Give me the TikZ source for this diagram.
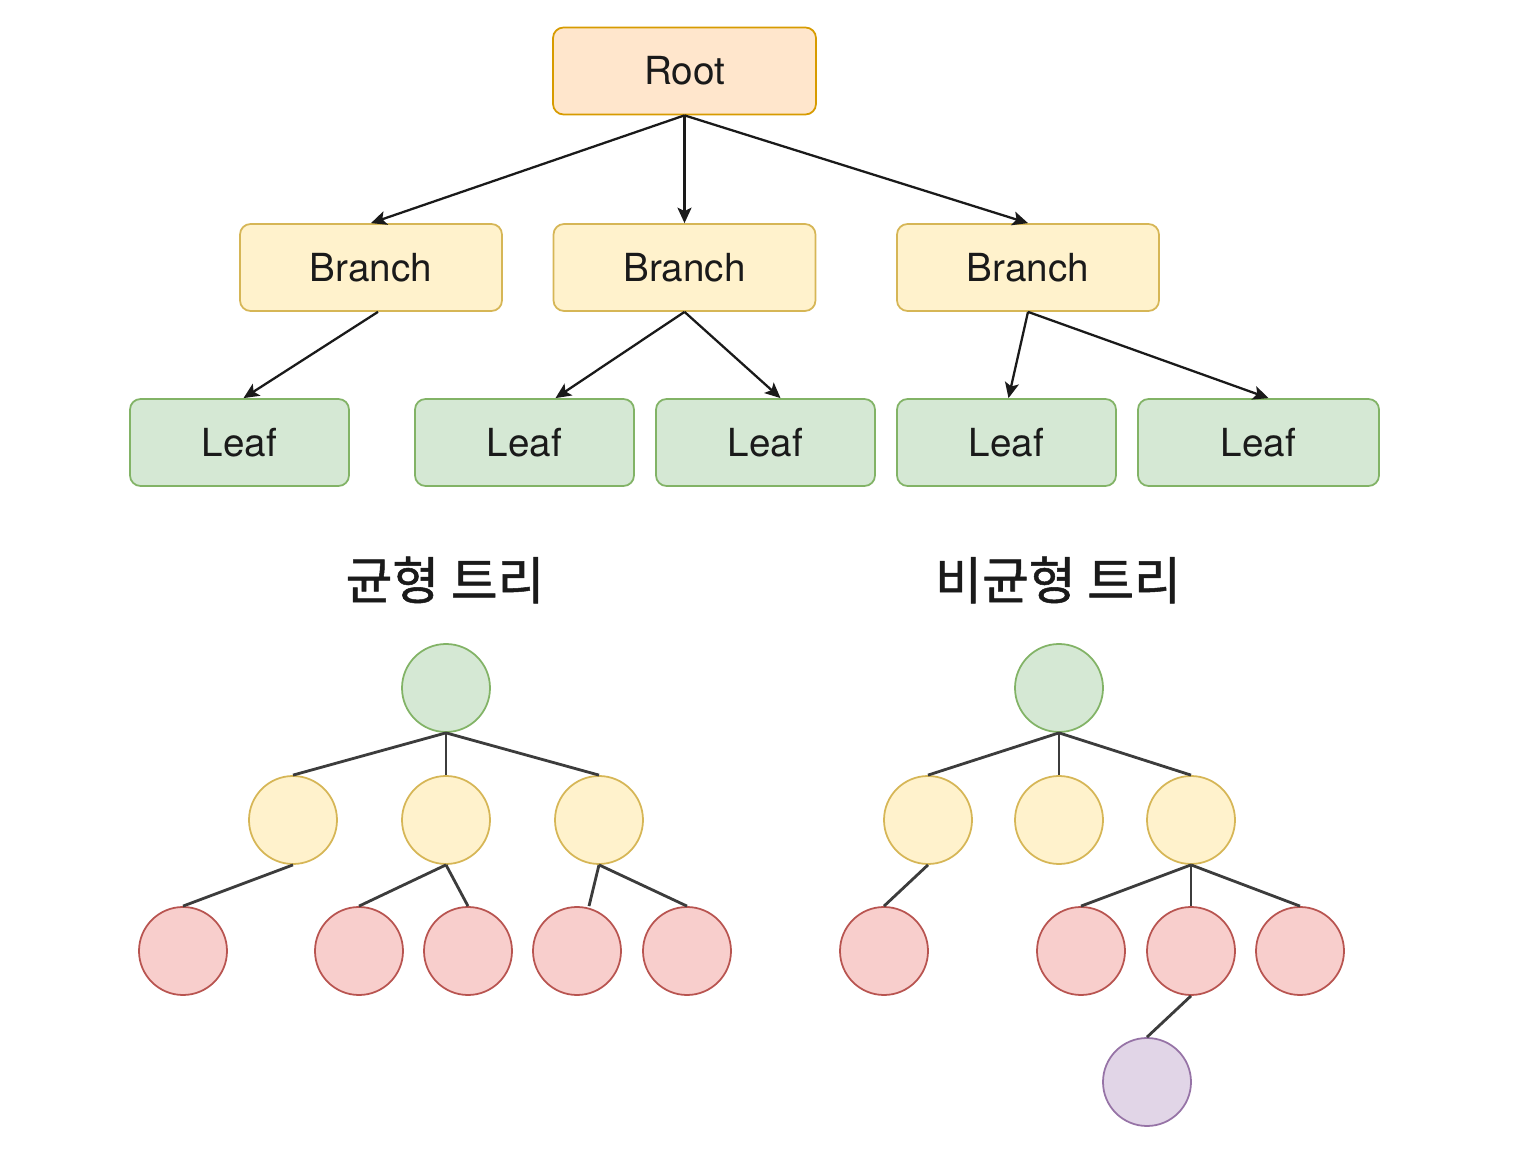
\documentclass[tikz,border=0pt]{standalone}
\usepackage{fontspec}
\setmainfont{TeX Gyre Heros}
\newfontfamily\kofont[FakeBold=1]{Noto Sans CJK KR}
\usetikzlibrary{arrows.meta}

\definecolor{rootfill}{HTML}{FFE6CC}
\definecolor{rootline}{HTML}{D79B00}
\definecolor{branchfill}{HTML}{FFF2CC}
\definecolor{branchline}{HTML}{D6B656}
\definecolor{leaffill}{HTML}{D5E8D4}
\definecolor{leafline}{HTML}{82B366}
\definecolor{redfill}{HTML}{F8CECC}
\definecolor{redline}{HTML}{B85450}
\definecolor{purplefill}{HTML}{E1D5E7}
\definecolor{purpleline}{HTML}{9673A6}
\definecolor{ink}{HTML}{1A1A1A}

\begin{document}
\begin{tikzpicture}[
  box/.style       = {draw, line width=0.5pt, rounded corners=3pt, inner sep=0pt,
                      minimum height=8.7mm, font=\fontsize{11}{13}\selectfont, text=ink},
  rootbox/.style   = {box, fill=rootfill, draw=rootline, minimum width=26.3mm},
  branchbox/.style = {box, fill=branchfill, draw=branchline, minimum width=26.2mm},
  leafbox/.style   = {box, fill=leaffill, draw=leafline, minimum width=21.9mm},
  knot/.style      = {circle, line width=0.5pt, minimum size=8.8mm, inner sep=0pt},
  top/.style       = {knot, fill=leaffill, draw=leafline},
  mid/.style       = {knot, fill=branchfill, draw=branchline},
  low/.style       = {knot, fill=redfill, draw=redline},
  deep/.style      = {knot, fill=purplefill, draw=purpleline},
  arr/.style       = {line width=0.65pt, ink, -{Stealth[length=4.4pt,width=4pt,inset=1pt]}},
  link/.style      = {line width=0.8pt, ink!85},
  caption/.style   = {font=\kofont\fontsize{14.5}{16}\selectfont, text=ink},
]
  \useasboundingbox (0,0) rectangle (15.18,11.6);

  % upper part: boxes with arrows
  \node[rootbox] (root) at (6.845,10.89) {Root};
  \node[branchbox] (b1) at (3.71,8.925) {Branch};
  \node[branchbox] (b2) at (6.845,8.925) {Branch};
  \node[branchbox] (b3) at (10.28,8.925) {Branch};
  \node[leafbox] (l1) at (2.395,7.175) {Leaf};
  \node[leafbox] (l2) at (5.245,7.175) {Leaf};
  \node[leafbox] (l3) at (7.655,7.175) {Leaf};
  \node[leafbox] (l4) at (10.065,7.175) {Leaf};
  \node[leafbox,minimum width=24.1mm] (l5) at (12.585,7.175) {Leaf};

  \draw[arr] (root.south) -- (b1.north);
  \draw[arr] (root.south) -- (b2.north);
  \draw[arr] (root.south) -- (b3.north);
  \draw[arr] ([xshift=0.07cm]b1.south) -- ([xshift=0.04cm]l1.north);
  \draw[arr] (b2.south) -- ([xshift=0.31cm]l2.north);
  \draw[arr] (b2.south) -- ([xshift=0.15cm]l3.north);
  \draw[arr] (b3.south) -- ([xshift=0.02cm]l4.north);
  \draw[arr] (b3.south) -- ([xshift=0.10cm]l5.north);

  \node[caption] (capa) at (4.45,5.8) {균형 트리};
  \node[caption] (capb) at (10.58,5.8) {비균형 트리};

  % balanced tree
  \node[top] (ba) at (4.46,4.72) {};
  \node[mid] (ba1) at (2.93,3.40) {};
  \node[mid] (ba2) at (4.46,3.40) {};
  \node[mid] (ba3) at (5.99,3.40) {};
  \node[low] (ba11) at (1.83,2.09) {};
  \node[low] (ba21) at (3.59,2.09) {};
  \node[low] (ba22) at (4.68,2.09) {};
  \node[low] (ba31) at (5.77,2.09) {};
  \node[low] (ba32) at (6.87,2.09) {};

  \draw[link] (ba.south) -- (ba1.north);
  \draw[link] (ba.south) -- (ba2.north);
  \draw[link] (ba.south) -- (ba3.north);
  \draw[link] (ba1.south) -- (ba11.north);
  \draw[link] (ba2.south) -- (ba21.north);
  \draw[link] (ba2.south) -- (ba22.north);
  \draw[link] (ba3.south) -- ([xshift=0.12cm]ba31.north);
  \draw[link] (ba3.south) -- (ba32.north);

  % unbalanced tree
  \node[top] (ub) at (10.59,4.72) {};
  \node[mid] (ub1) at (9.28,3.40) {};
  \node[mid] (ub2) at (10.59,3.40) {};
  \node[mid] (ub3) at (11.91,3.40) {};
  \node[low] (ub11) at (8.84,2.09) {};
  \node[low] (ub31) at (10.81,2.09) {};
  \node[low] (ub32) at (11.91,2.09) {};
  \node[low] (ub33) at (13.00,2.09) {};
  \node[deep] (ub321) at (11.47,0.78) {};

  \draw[link] (ub.south) -- (ub1.north);
  \draw[link] (ub.south) -- (ub2.north);
  \draw[link] (ub.south) -- (ub3.north);
  \draw[link] (ub1.south) -- (ub11.north);
  \draw[link] (ub3.south) -- (ub31.north);
  \draw[link] (ub3.south) -- (ub32.north);
  \draw[link] (ub3.south) -- (ub33.north);
  \draw[link] (ub32.south) -- (ub321.north);
\end{tikzpicture}
\end{document}
